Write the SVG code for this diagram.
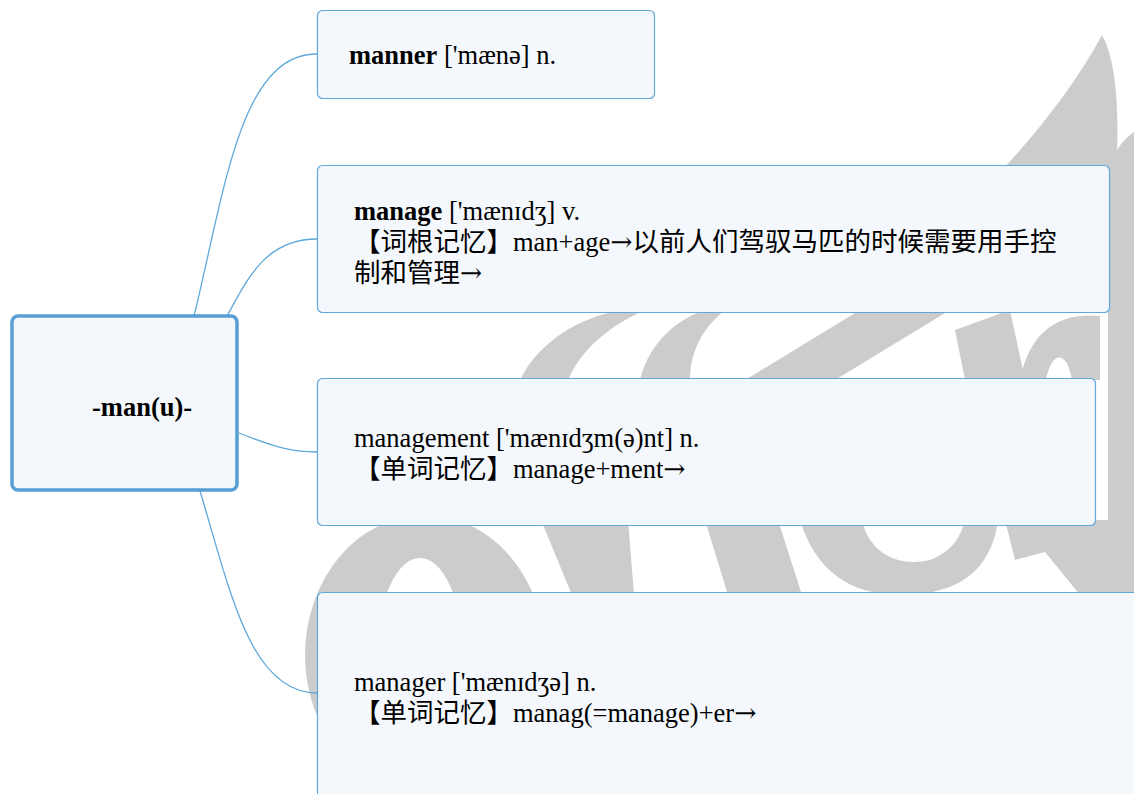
<svg xmlns="http://www.w3.org/2000/svg" width="1134" height="794" viewBox="0 0 1134 794">
<style>
.wm{fill:#cccccc;stroke:none}
.node{fill:#f4f8fc;stroke:#5fa8da;stroke-width:1.2}
.root{fill:#f4f8fc;stroke:#579fd4;stroke-width:3.5}
.conn{fill:none;stroke:#5fa8da;stroke-width:1.3}
.t{font-family:"Liberation Serif","Noto Sans CJK SC",serif;font-size:26.5px;fill:#000}
.b{font-weight:bold}
.ar{font-family:"DejaVu Serif","Liberation Serif",serif}
</style>
<rect width="1134" height="794" fill="#ffffff"/>
<g id="watermark">
<path class="wm" fill-rule="evenodd" d="M305 655 A120 140 0 1 1 545 655 A120 140 0 1 1 305 655 Z M378 650 A42 92 0 1 0 462 650 A42 92 0 1 0 378 650 Z"/>
<path class="wm" d="M1102 35 C1116 60 1120 110 1116 172 L1000 172 C1040 130 1078 80 1102 35 Z"/>
<path class="wm" d="M1116 152 C1122 140 1134 132 1134 132 L1134 300 L1108 300 L1108 170 Z"/>
<path class="wm" d="M520 380 C540 340 580 318 620 310 L645 310 C605 328 580 352 568 380 Z"/>
<path class="wm" d="M640 380 C650 340 680 318 705 310 L725 310 C700 330 690 355 690 380 Z"/>
<polygon class="wm" points="860,310 950,310 835,380 745,380"/>
<polygon class="wm" points="955,330 1010,310 1025,380 965,380"/>
<path class="wm" d="M1020 380 C1030 330 1060 312 1100 316 L1100 380 L1072 380 C1068 352 1052 348 1046 380 Z"/>
<rect class="wm" x="1108" y="290" width="30" height="300"/>
<polygon class="wm" points="541,520 628,520 634,595 572,595"/>
<polygon class="wm" points="705,520 778,520 802,595 728,595"/>
<path class="wm" d="M800 520 L862 520 C868 550 895 568 930 560 C950 552 960 540 965 520 L998 520 C992 565 965 595 900 595 C850 595 815 570 800 520 Z"/>
<polygon class="wm" points="1005,520 1134,520 1134,595 1080,595 1045,552 1015,560"/>
</g>
<g id="connectors">
<path class="conn" d="M194 316 C225 190 240 54 317 54"/>
<path class="conn" d="M227 316 C247 280 265 239 317 239"/>
<path class="conn" d="M239 433 C272 446 290 452 317 452"/>
<path class="conn" d="M200 491 C230 590 250 693 317 693"/>
</g>
<g id="root">
<rect class="root" x="12" y="316" width="225" height="174" rx="6"/>
<text class="t b" x="92" y="416">-man(u)-</text>
</g>
<g id="n-manner">
<rect class="node" x="317.5" y="10.5" width="337" height="88" rx="5"/>
<text class="t" x="349" y="64"><tspan class="b">manner</tspan> ['mænə] n.</text>
</g>
<g id="n-manage">
<rect class="node" x="317.5" y="165.5" width="792" height="147" rx="5"/>
<text class="t" x="354" y="220"><tspan class="b">manage</tspan> ['mænɪdʒ] v.</text>
<text class="t" x="354" y="251">【词根记忆】man+age<tspan class="ar">→</tspan>以前人们驾驭马匹的时候需要用手控</text>
<text class="t" x="354" y="282">制和管理<tspan class="ar">→</tspan></text>
</g>
<g id="n-management">
<rect class="node" x="317.5" y="378.5" width="778" height="147" rx="5"/>
<text class="t" x="354" y="447">management ['mænɪdʒm(ə)nt] n.</text>
<text class="t" x="354" y="478">【单词记忆】manage+ment<tspan class="ar">→</tspan></text>
</g>
<g id="n-manager">
<rect class="node" x="317.5" y="592.5" width="840" height="260" rx="5"/>
<text class="t" x="354" y="691">manager ['mænɪdʒə] n.</text>
<text class="t" x="354" y="722">【单词记忆】manag(=manage)+er<tspan class="ar">→</tspan></text>
</g>
</svg>
